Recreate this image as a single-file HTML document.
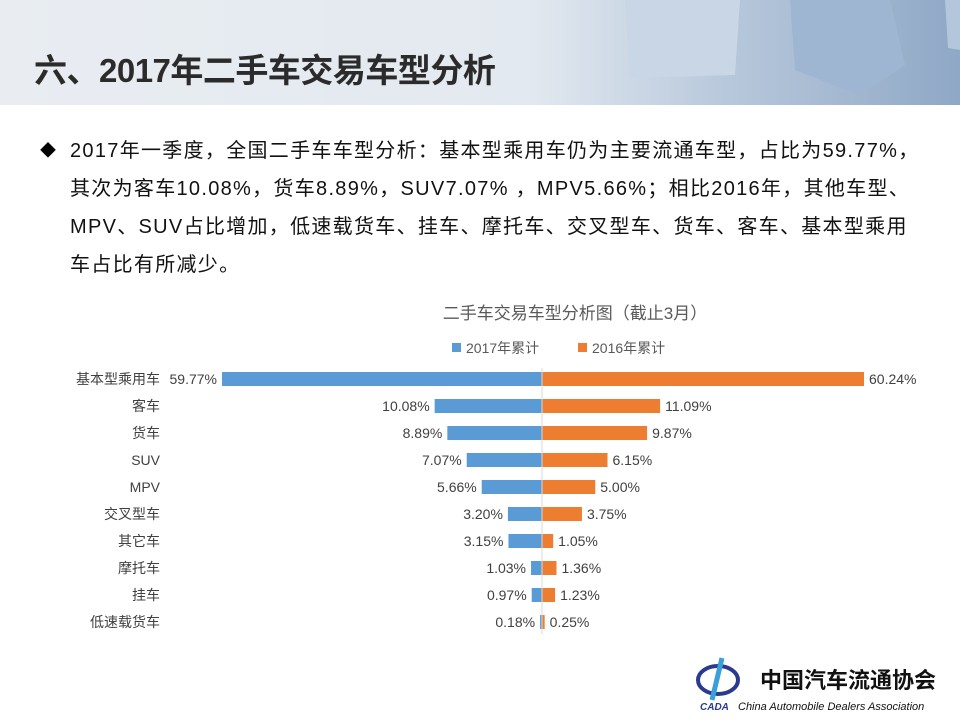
<!DOCTYPE html>
<html><head><meta charset="utf-8"><style>
body{margin:0;width:960px;height:720px;background:#fff;position:relative;overflow:hidden;font-family:"Liberation Sans","Noto Sans CJK SC",sans-serif}
.hdr{position:absolute;left:0;top:0;width:960px;height:105px;background:linear-gradient(90deg,#e9edf2 0%,#e3e9f0 55%,#b9c9dc 75%,#8fa8c6 100%)}
.t{position:absolute;left:34px;top:44px;font-size:33px;font-weight:bold;color:#2b2b2b;letter-spacing:-0.5px}
.p{position:absolute;left:70px;font-size:20px;color:#111;white-space:nowrap;letter-spacing:1.3px}
</style></head><body>
<div class="hdr"></div>
<svg style="position:absolute;left:0;top:0" width="960" height="105">
<polygon points="625,0 740,0 735,75 630,78" fill="#c9d6e6"/>
<polygon points="790,0 890,0 905,65 860,95 795,70" fill="#9fb6d2"/>
<polygon points="945,0 960,0 960,50 948,48" fill="#b3c6dc"/>
</svg>
<div class="t">六、2017年二手车交易车型分析</div>
<div style="position:absolute;left:40px;top:137px;font-size:16px">◆</div>
<div class="p" style="top:134px">2017年一季度，全国二手车车型分析：基本型乘用车仍为主要流通车型，占比为59.77%，</div>
<div class="p" style="top:172px">其次为客车10.08%，货车8.89%，SUV7.07% ，MPV5.66%；相比2016年，其他车型、</div>
<div class="p" style="top:210px">MPV、SUV占比增加，低速载货车、挂车、摩托车、交叉型车、货车、客车、基本型乘用</div>
<div class="p" style="top:248px">车占比有所减少。</div>
<svg style="position:absolute;left:0;top:0" width="960" height="720" font-family="Liberation Sans, Noto Sans CJK SC, sans-serif">
<text x="575" y="319" font-size="17" fill="#595959" text-anchor="middle">二手车交易车型分析图（截止3月）</text>
<rect x="452" y="343" width="9" height="9" fill="#5b9bd5"/><text x="466" y="353" font-size="14" fill="#595959">2017年累计</text>
<rect x="578" y="343" width="9" height="9" fill="#ed7d31"/><text x="592" y="353" font-size="14" fill="#595959">2016年累计</text>
<g font-size="14" fill="#404040">
<g id="rows"></g>
</g>
<line x1="542" y1="368" x2="542" y2="634" stroke="#d9d9d9"/>
<text x="760" y="688" font-size="22" font-weight="bold" fill="#111">中国汽车流通协会</text>
<text x="738" y="710" font-size="11" font-style="italic" fill="#111">China Automobile Dealers Association</text>
<ellipse cx="718" cy="680" rx="20" ry="14" fill="none" stroke="#2b3a8f" stroke-width="4"/>
<path d="M722 658 L712 700" stroke="#3aa0d8" stroke-width="5"/>
<text x="700" y="710" font-size="10" font-weight="bold" font-style="italic" fill="#2b3a8f">CADA</text>
</svg>
<script>
var d=[["基本型乘用车",59.77,60.24],["客车",10.08,11.09],["货车",8.89,9.87],["SUV",7.07,6.15],["MPV",5.66,5.00],["交叉型车",3.20,3.75],["其它车",3.15,1.05],["摩托车",1.03,1.36],["挂车",0.97,1.23],["低速载货车",0.18,0.25]];
var k=10.65,h='';
d.forEach(function(r,i){var y=379+i*27,a=i==0?320:Math.max(r[1]*k,1.5),b=i==0?322:Math.max(r[2]*k,1.5);
h+='<rect x="'+(542-a)+'" y="'+(y-7)+'" width="'+a+'" height="14" fill="#5b9bd5"/>';
h+='<rect x="542" y="'+(y-7)+'" width="'+b+'" height="14" fill="#ed7d31"/>';
h+='<text x="160" y="'+(y+5)+'" text-anchor="end">'+r[0]+'</text>';
h+='<text x="'+(542-a-5)+'" y="'+(y+5)+'" text-anchor="end">'+r[1].toFixed(2)+'%</text>';
h+='<text x="'+(542+b+5)+'" y="'+(y+5)+'">'+r[2].toFixed(2)+'%</text>';});
document.getElementById('rows').innerHTML=h;
</script>
</body></html>
